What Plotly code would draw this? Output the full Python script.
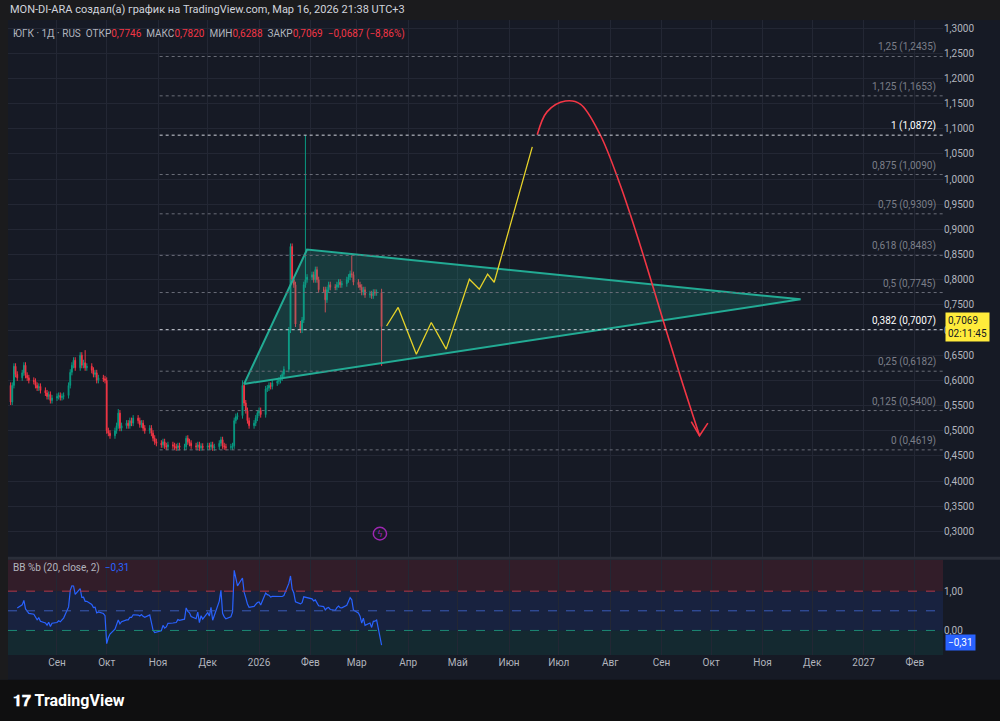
import pandas as pd
import plotly.graph_objects as go

# --- свечи ЮГК, 1Д (будни с 4 авг 2025 по 16 мар 2026) ---
dates = pd.bdate_range("2025-08-04", "2026-03-16")
closes = [
    0.557, 0.590, 0.628, 0.612, 0.605,
    0.615, 0.630, 0.610, 0.605, 0.600,
    0.598, 0.590, 0.585, 0.588, 0.580,
    0.575, 0.568, 0.572, 0.560, 0.565,
    0.568, 0.570, 0.566, 0.568, 0.570,
    0.590, 0.616, 0.630, 0.640, 0.625,
    0.650, 0.630, 0.635, 0.625, 0.628,
    0.620, 0.612, 0.615, 0.600, 0.605,
    0.603, 0.600, 0.500, 0.495, 0.490,
    0.500, 0.510, 0.535, 0.505, 0.510,
    0.515, 0.510, 0.520, 0.515, 0.525,
    0.520, 0.512, 0.515, 0.505, 0.500,
    0.505, 0.495, 0.485, 0.478, 0.475,
    0.472, 0.478, 0.470, 0.468, 0.472,
    0.470, 0.468, 0.466, 0.470, 0.467,
    0.468, 0.485, 0.478, 0.475, 0.470,
    0.468, 0.472, 0.466, 0.469, 0.467,
    0.470, 0.468, 0.472, 0.466, 0.468,
    0.475, 0.482, 0.470, 0.468, 0.467,
    0.468, 0.470, 0.520, 0.528, 0.530,
    0.590, 0.555, 0.540, 0.520, 0.510,
    0.515, 0.525, 0.535, 0.540, 0.532,
    0.583, 0.585, 0.590, 0.588, 0.595,
    0.598, 0.600, 0.605, 0.612, 0.622,
    0.700, 0.866, 0.800, 0.790, 0.712,
    0.700, 0.720, 0.790, 0.800, 0.805,
    0.810, 0.800, 0.820, 0.800, 0.780,
    0.780, 0.760, 0.780, 0.790, 0.785,
    0.785, 0.790, 0.795, 0.790, 0.792,
    0.800, 0.805, 0.812, 0.810, 0.795,
    0.790, 0.785, 0.775, 0.780, 0.770,
    0.772, 0.768, 0.775, 0.774, 0.7746,
    0.7069,
]
first_open = 0.590
# заметные тени: дата -> (макс, мин)
wicks = {
    "2025-09-18": (0.660, None), "2025-10-08": (0.543, None),
    "2026-01-29": (1.0872, None), "2026-02-26": (0.848, None),
    "2026-02-10": (None, 0.735), "2026-03-16": (0.7820, 0.6288),
    "2025-12-22": (0.600, None), "2025-11-18": (0.490, None),
}

# --- уровни Фибоначчи ---
fib_levels = [0, 0.125, 0.25, 0.382, 0.5, 0.618, 0.75, 0.875, 1, 1.125, 1.25]
fib_prices = [0.4619, 0.5400, 0.6182, 0.7007, 0.7745, 0.8483, 0.9309, 1.0090, 1.0872, 1.1653, 1.2435]
fib_start, fib_end = "2025-11-02", "2027-02-18"

# --- треугольник ---
tri_x = ["2025-12-23", "2026-01-30", "2026-11-24", "2025-12-23"]
tri_y = [0.593, 0.860, 0.761, 0.593]

# --- прогноз (жёлтая линия) ---
yel_x = ["2026-03-19", "2026-03-26", "2026-04-06", "2026-04-15", "2026-04-24",
         "2026-05-08", "2026-05-14", "2026-05-19", "2026-05-23", "2026-06-15"]
yel_y = [0.708, 0.745, 0.652, 0.715, 0.662, 0.801, 0.781, 0.811, 0.795, 1.064]

# --- красная дуга ---
red_x = ["2026-06-18", "2026-06-24", "2026-07-05", "2026-07-14", "2026-07-26",
         "2026-08-07", "2026-08-19", "2026-08-31", "2026-09-12", "2026-09-24"]
red_y = [1.088, 1.134, 1.155, 1.149, 1.088, 0.989, 0.870, 0.741, 0.612, 0.490]
arrow_x = ["2026-09-19", "2026-09-24", "2026-09-29"]
arrow_y = [0.518, 0.490, 0.515]

month_vals = ["2025-09-01", "2025-10-01", "2025-11-01", "2025-12-01", "2026-01-01",
              "2026-02-01", "2026-03-01", "2026-04-01", "2026-05-01", "2026-06-01",
              "2026-07-01", "2026-08-01", "2026-09-01", "2026-10-01", "2026-11-01",
              "2026-12-01", "2027-01-01", "2027-02-01"]
month_text = ["Сен", "Окт", "Ноя", "Дек", "2026", "Фев", "Мар", "Апр", "Май", "Июн",
              "Июл", "Авг", "Сен", "Окт", "Ноя", "Дек", "2027", "Фев"]

price_ticks = [round(0.30 + 0.05 * i, 2) for i in range(21)]

# OHLC
opens = [first_open] + closes[:-1]
highs, lows = [], []
for d, o, c in zip(dates, opens, closes):
    h, l = max(o, c) + 0.006, min(o, c) - 0.006
    w = wicks.get(d.strftime("%Y-%m-%d"))
    if w:
        h = w[0] if w[0] else h
        l = w[1] if w[1] else l
    highs.append(h)
    lows.append(l)

# BB %b (20, close, 2)
s = pd.Series(closes)
mid = s.rolling(20, min_periods=5).mean()
sd = s.rolling(20, min_periods=5).std(ddof=0)
bbp = (s - (mid - 2 * sd)) / (4 * sd)

BG = "#161a25"
GRID = "#232734"
TXT = "#b2b5be"

fig = go.Figure()

fig.add_trace(go.Scatter(x=tri_x, y=tri_y, mode="lines", fill="toself",
                         fillcolor="rgba(34,171,148,0.22)",
                         line=dict(color="#22ab94", width=2), hoverinfo="skip"))

fig.add_trace(go.Candlestick(x=dates, open=opens, high=highs, low=lows, close=closes,
                             increasing=dict(line=dict(color="#089981", width=1), fillcolor="#089981"),
                             decreasing=dict(line=dict(color="#f23645", width=1), fillcolor="#f23645"),
                             whiskerwidth=0))

fig.add_trace(go.Scatter(x=yel_x, y=yel_y, mode="lines", line=dict(color="#e6d229", width=1.3)))
fig.add_trace(go.Scatter(x=red_x, y=red_y, mode="lines", line=dict(color="#f23645", width=1.6, shape="spline")))
fig.add_trace(go.Scatter(x=arrow_x, y=arrow_y, mode="lines", line=dict(color="#f23645", width=1.6)))

fig.add_trace(go.Scatter(x=dates, y=bbp, mode="lines", line=dict(color="#2962ff", width=1.2),
                         xaxis="x", yaxis="y2"))

shapes = []
# панель индикатора: фоновые зоны
for y0, y1, col in [(1, 1.8, "rgba(242,54,69,0.13)"), (0, 1, "rgba(41,98,255,0.12)"),
                    (-0.625, 0, "rgba(8,153,129,0.12)")]:
    shapes.append(dict(type="rect", xref="paper", yref="y2", x0=0, x1=1, y0=y0, y1=y1,
                       fillcolor=col, line_width=0, layer="below"))
for yv, col in [(1, "#b2374a"), (0.5, "#3a5bb8"), (0, "#1c8a74")]:
    shapes.append(dict(type="line", xref="paper", yref="y2", x0=0, x1=1, y0=yv, y1=yv,
                       line=dict(color=col, width=1, dash="dash")))
# Фибоначчи
for lvl, p in zip(fib_levels, fib_prices):
    bright = lvl in (0.382, 1)
    shapes.append(dict(type="line", xref="x", yref="y", x0=fib_start, x1=fib_end, y0=p, y1=p,
                       line=dict(color="#d1d4dc" if bright else "#6a6d78", width=1, dash="dot")))
# разделитель панелей, верх и низ
shapes.append(dict(type="line", xref="paper", yref="paper", x0=0, x1=1.062, y0=0.1525, y1=0.1525,
                   line=dict(color="#2a2e39", width=3)))
shapes.append(dict(type="rect", xref="paper", yref="paper", x0=-0.01, x1=1.07, y0=1.0, y1=1.035,
                   fillcolor="#1b1b1d", line_width=0))
shapes.append(dict(type="rect", xref="paper", yref="paper", x0=-0.01, x1=1.07, y0=-0.105, y1=-0.039,
                   fillcolor="#0f0f10", line_width=0))
shapes.append(dict(type="rect", xref="paper", yref="paper", x0=-0.01, x1=0.0, y0=-0.039, y1=1.0,
                   fillcolor="#1b1b1d", line_width=0))
# значок молнии
shapes.append(dict(type="circle", xref="x", yref="y", x0="2026-03-11", x1="2026-03-19",
                   y0=0.283, y1=0.308, line=dict(color="#9c27b0", width=1.5)))

ann = []
for lvl, p in zip(fib_levels, fib_prices):
    bright = lvl in (0.382, 1)
    lt = ("%g" % lvl).replace(".", ",")
    ann.append(dict(x=0.995, xref="paper", y=p, yref="y", yanchor="bottom", xanchor="right",
                    text=f"{lt} ({p:.4f})".replace(".", ","), showarrow=False, yshift=1,
                    font=dict(size=10, color="#ffffff" if bright else "#7b7e88")))
ann.append(dict(x=0.0, xref="paper", y=1.016, yref="paper", xanchor="left", yanchor="middle",
                showarrow=False,
                text="MON-DI-ARA создал(а) график на TradingView.com, Мар 16, 2026 21:38 UTC+3",
                font=dict(size=11, color="#d1d4dc")))
red = "#f23645"
ann.append(dict(x=0.003, xref="paper", y=0.978, yref="paper", xanchor="left", yanchor="middle",
                showarrow=False,
                text=("ЮГК · 1Д · RUS  ОТКР<span style='color:%s'>0,7746</span>  МАКС<span style='color:%s'>0,7820</span>"
                      "  МИН<span style='color:%s'>0,6288</span>  ЗАКР<span style='color:%s'>0,7069  −0,0687 (−8,86%%)</span>")
                % (red, red, red, red),
                font=dict(size=10, color="#b2b5be")))
ann.append(dict(x=0.003, xref="paper", y=1.6, yref="y2", xanchor="left", yanchor="middle",
                showarrow=False,
                text="BB %b (20, close, 2)  <span style='color:#2962ff'>−0,31</span>",
                font=dict(size=10, color="#b2b5be")))
ann.append(dict(x=1.0, xref="paper", y=closes[-1], yref="y", xanchor="left", yanchor="middle",
                showarrow=False, xshift=2, text="0,7069<br>02:11:45", bgcolor="#ffeb3b",
                align="left", font=dict(size=10, color="#131722"), borderpad=2))
ann.append(dict(x=1.0, xref="paper", y=-0.31, yref="y2", xanchor="left", yanchor="middle",
                showarrow=False, xshift=2, text="−0,31", bgcolor="#2962ff",
                font=dict(size=10, color="#ffffff"), borderpad=2))
ann.append(dict(x="2026-03-15", xref="x", y=0.2955, yref="y", showarrow=False, text="ϟ",
                font=dict(size=9, color="#9c27b0")))
ann.append(dict(x=0.0, xref="paper", y=-0.072, yref="paper", xanchor="left", yanchor="middle",
                showarrow=False, xshift=3,
                text="<b>𝟏𝟕 TradingView</b>", font=dict(size=16, color="#ffffff")))

fig.update_layout(
    width=1000, height=721,
    margin=dict(l=8, r=57, t=20, b=66),
    paper_bgcolor=BG, plot_bgcolor=BG,
    showlegend=False,
    font=dict(family="Roboto, DejaVu Sans", color=TXT),
    xaxis=dict(type="date", range=["2025-08-02 10:00", "2027-02-18"],
               tickvals=month_vals, ticktext=month_text, tickfont=dict(size=10, color=TXT),
               showgrid=True, gridcolor=GRID, zeroline=False, rangeslider=dict(visible=False),
               anchor="y2", ticks=""),
    yaxis=dict(domain=[0.155, 1], range=[0.2499, 1.316], side="right",
               tickvals=price_ticks, ticktext=[f"{v:.4f}".replace(".", ",") for v in price_ticks],
               tickfont=dict(size=10, color=TXT), showgrid=True, gridcolor=GRID, zeroline=False),
    yaxis2=dict(domain=[0, 0.15], range=[-0.625, 1.8], side="right",
                tickvals=[0, 1], ticktext=["0,00", "1,00"],
                tickfont=dict(size=10, color=TXT), showgrid=False, zeroline=False),
    shapes=shapes, annotations=ann,
)

fig.write_html("out.html", config={"displayModeBar": False},
               post_script="document.body.style.margin='0';document.body.style.background='#0f0f10';")
